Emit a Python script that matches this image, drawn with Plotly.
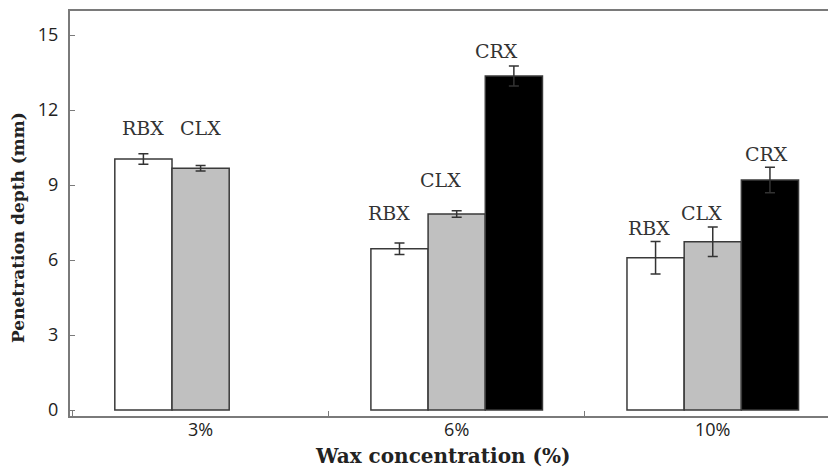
import plotly.graph_objects as go

# Wax concentration groups
categories = ["3%", "6%", "10%"]

# Penetration depth (mm), mean and error
series_names = ["RBX", "CLX", "CRX"]
rbx_values = [10.04, 6.45, 6.09]
rbx_errors = [0.21, 0.23, 0.65]
clx_values = [9.67, 7.84, 6.73]
clx_errors = [0.11, 0.13, 0.59]
crx_values = [None, 13.36, 9.20]
crx_errors = [None, 0.40, 0.51]

y_ticks = [0, 3, 6, 9, 12, 15]

# styling
fills = ["#ffffff", "#c0c0c0", "#000000"]
outline = "#3a3a3a"
axis_color = "#7a7a7a"
bar_gap = 0.33
label_font = "DejaVu Serif"
# label nudges (px) above each error bar, per series
label_dy = [[26, 30, 14], [38, 31, 14], [None, 15, 13]]
label_dx = [[0, -10, -7], [0, -16, -11], [None, -17, -3]]

values = [rbx_values, clx_values, crx_values]
errors = [rbx_errors, clx_errors, crx_errors]

fig = go.Figure()
for name, vals, errs, color in zip(series_names, values, errors, fills):
    fig.add_trace(go.Bar(
        name=name, x=categories, y=vals,
        marker=dict(color=color, line=dict(color=outline, width=1.5)),
        error_y=dict(type="data", array=[e if e is not None else 0 for e in errs],
                     color="#333333", thickness=1.5, width=5, visible=True),
        showlegend=False,
    ))

# series labels placed above the error bars
bar_w = (1 - bar_gap) / len(series_names)
annotations = []
for si, (name, vals, errs) in enumerate(zip(series_names, values, errors)):
    for ci, v in enumerate(vals):
        if v is None:
            continue
        annotations.append(dict(
            x=ci + (si - 1) * bar_w, y=v + errs[ci], xref="x", yref="y",
            text=name, showarrow=False, yanchor="middle",
            xshift=label_dx[si][ci], yshift=label_dy[si][ci],
            font=dict(family=label_font, size=19, color="#333333"),
        ))

annotations.append(dict(
    x=0.492, y=0, xref="paper", yref="paper", yshift=-40, yanchor="middle",
    text="<b>Wax concentration (%)</b>", showarrow=False,
    font=dict(family="DejaVu Serif", size=20, color="#222222"),
))
annotations.append(dict(
    x=0, y=0, xref="paper", yref="paper", xshift=-52, yshift=188,
    xanchor="center", yanchor="middle", textangle=-90,
    text="<b>Penetration depth (mm)</b>", showarrow=False,
    font=dict(family="DejaVu Serif", size=17, color="#222222"),
))

fig.update_layout(
    width=828, height=470,
    margin=dict(l=70, r=0, t=11, b=54),
    paper_bgcolor="white", plot_bgcolor="white",
    barmode="group", bargap=bar_gap, bargroupgap=0,
    annotations=annotations,
    xaxis=dict(
        type="category", range=[-0.51, 2.45],
        showline=True, linecolor=axis_color, linewidth=2, mirror=True,
        ticks="inside", tickson="boundaries", ticklen=5, tickcolor=axis_color,
        showgrid=False, zeroline=False,
        ticklabelstandoff=-4,
        tickfont=dict(family="Open Sans", size=18, color="#222222"),
    ),
    yaxis=dict(
        range=[-0.24, 15.96], tickvals=y_ticks,
        showline=True, linecolor=axis_color, linewidth=2, mirror=False,
        ticks="inside", ticklen=5, tickcolor=axis_color,
        showgrid=False, zeroline=False,
        ticklabelstandoff=6,
        tickfont=dict(family="Open Sans", size=18, color="#222222"),
    ),
)

fig.write_html("out.html")
